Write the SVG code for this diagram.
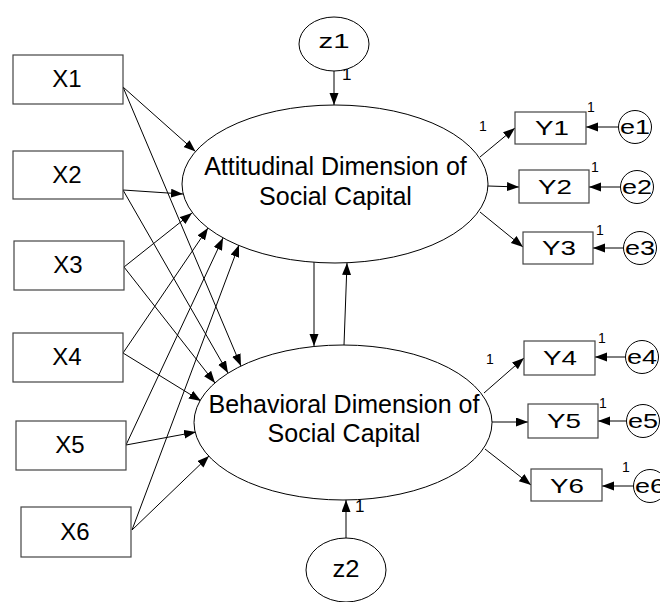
<svg xmlns="http://www.w3.org/2000/svg" width="660" height="602" viewBox="0 0 660 602">
<style>
.box{fill:#fff;stroke:#444;stroke-width:1.2}
.lat{fill:#fff;stroke:#000;stroke-width:1}
.ln{fill:none;stroke:#000;stroke-width:1;marker-end:url(#ah)}
.big{font-family:"Liberation Sans",Arial,sans-serif;font-size:25px;fill:#000;text-anchor:middle}
.xl{font-family:"Liberation Sans",Arial,sans-serif;font-size:24px;fill:#000;text-anchor:middle}
.yl{font-family:"Liberation Sans",Arial,sans-serif;font-size:21px;fill:#000;text-anchor:middle}
.one{font-family:"Liberation Sans",Arial,sans-serif;font-size:14px;fill:#000}
</style>
<defs>
<marker id="ah" markerUnits="userSpaceOnUse" markerWidth="13" markerHeight="10" refX="12" refY="4.5" orient="auto">
<path d="M0,0 L12,4.5 L0,9 z" fill="#000"/>
</marker>
</defs>
<g id="connectors">
<line class="ln" x1="123" y1="87" x2="195.5" y2="151.5"/>
<line class="ln" x1="123" y1="87" x2="241" y2="366"/>
<line class="ln" x1="123" y1="190" x2="183" y2="194"/>
<line class="ln" x1="123" y1="190" x2="228" y2="373"/>
<line class="ln" x1="124" y1="267" x2="192" y2="213"/>
<line class="ln" x1="124" y1="267" x2="215" y2="383"/>
<line class="ln" x1="123" y1="353" x2="208" y2="228"/>
<line class="ln" x1="123" y1="353" x2="201" y2="401"/>
<line class="ln" x1="126" y1="445" x2="223" y2="238"/>
<line class="ln" x1="126" y1="445" x2="196" y2="432"/>
<line class="ln" x1="132" y1="530" x2="239" y2="245"/>
<line class="ln" x1="132" y1="530" x2="209" y2="456"/>
<line class="ln" x1="314" y1="262" x2="314" y2="346"/>
<line class="ln" x1="344" y1="345" x2="347" y2="263"/>
<line class="ln" x1="334" y1="71" x2="334" y2="105"/>
<line class="ln" x1="346" y1="538" x2="346" y2="500"/>
<line class="ln" x1="480" y1="157" x2="515" y2="128"/>
<line class="ln" x1="488" y1="186" x2="519" y2="187"/>
<line class="ln" x1="480" y1="212" x2="523" y2="247"/>
<line class="ln" x1="484" y1="393" x2="524" y2="358"/>
<line class="ln" x1="492" y1="422" x2="528" y2="422"/>
<line class="ln" x1="485" y1="449" x2="531" y2="485"/>
<line class="ln" x1="618.5" y1="127" x2="586" y2="127"/>
<line class="ln" x1="620.5" y1="187" x2="589" y2="187"/>
<line class="ln" x1="623.5" y1="248" x2="593" y2="248"/>
<line class="ln" x1="625.5" y1="357" x2="595" y2="357"/>
<line class="ln" x1="626.5" y1="421" x2="598" y2="421"/>
<line class="ln" x1="633.5" y1="486" x2="602" y2="486"/>
</g>
<g id="labels1">
<text class="one" x="342" y="80" style="font-size:17px">1</text>
<text class="one" x="355" y="512" style="font-size:17px">1</text>
<text class="one" x="479" y="131">1</text>
<text class="one" x="587" y="112">1</text>
<text class="one" x="591" y="172">1</text>
<text class="one" x="596" y="235">1</text>
<text class="one" x="486" y="364">1</text>
<text class="one" x="598" y="343">1</text>
<text class="one" x="599" y="408">1</text>
<text class="one" x="622" y="472">1</text>
</g>
<g id="X1"><rect class="box" x="13" y="55" width="110" height="49"/><text class="xl" x="67" y="87">X1</text></g>
<g id="X2"><rect class="box" x="13" y="151" width="110" height="48"/><text class="xl" x="67" y="183">X2</text></g>
<g id="X3"><rect class="box" x="14" y="241" width="110" height="49"/><text class="xl" x="68" y="273">X3</text></g>
<g id="X4"><rect class="box" x="13" y="333" width="110" height="49"/><text class="xl" x="67" y="365">X4</text></g>
<g id="X5"><rect class="box" x="16" y="421" width="110" height="49"/><text class="xl" x="70" y="453">X5</text></g>
<g id="X6"><rect class="box" x="21" y="507" width="110" height="50"/><text class="xl" x="75" y="540">X6</text></g>
<g id="F1"><ellipse class="lat" cx="335" cy="184" rx="153" ry="79"/><text class="big" x="335.5" y="175">Attitudinal Dimension of</text><text class="big" x="335.5" y="205">Social Capital</text></g>
<g id="F2"><ellipse class="lat" cx="343" cy="422.5" rx="149" ry="77.5"/><text class="big" x="344" y="413">Behavioral Dimension of</text><text class="big" x="344" y="442">Social Capital</text></g>
<g id="z1"><ellipse class="lat" cx="334" cy="44" rx="35" ry="27"/><text class="yl" x="334" y="48" textLength="31" lengthAdjust="spacingAndGlyphs">z1</text></g>
<g id="z2"><ellipse class="lat" cx="346" cy="570" rx="40" ry="32"/><text class="yl" x="346" y="577" style="font-size:23px" textLength="27" lengthAdjust="spacingAndGlyphs">z2</text></g>
<g id="Y1"><rect class="box" x="515" y="112" width="71" height="32"/><text class="yl" x="552" y="135" textLength="34" lengthAdjust="spacingAndGlyphs">Y1</text></g>
<g id="Y2"><rect class="box" x="519" y="170" width="70" height="33"/><text class="yl" x="555" y="194" textLength="34" lengthAdjust="spacingAndGlyphs">Y2</text></g>
<g id="Y3"><rect class="box" x="523" y="232" width="70" height="32"/><text class="yl" x="559" y="255" textLength="34" lengthAdjust="spacingAndGlyphs">Y3</text></g>
<g id="Y4"><rect class="box" x="524" y="341" width="71" height="34"/><text class="yl" x="560" y="365" textLength="34" lengthAdjust="spacingAndGlyphs">Y4</text></g>
<g id="Y5"><rect class="box" x="528" y="404" width="70" height="34"/><text class="yl" x="564" y="428" textLength="34" lengthAdjust="spacingAndGlyphs">Y5</text></g>
<g id="Y6"><rect class="box" x="531" y="469" width="71" height="32"/><text class="yl" x="567" y="493" textLength="34" lengthAdjust="spacingAndGlyphs">Y6</text></g>
<g id="e1"><circle class="lat" cx="635" cy="127" r="16.5"/><text class="yl" x="635" y="134" textLength="30" lengthAdjust="spacingAndGlyphs">e1</text></g>
<g id="e2"><circle class="lat" cx="637" cy="187" r="16.5"/><text class="yl" x="637" y="194" textLength="30" lengthAdjust="spacingAndGlyphs">e2</text></g>
<g id="e3"><circle class="lat" cx="640" cy="248" r="16.5"/><text class="yl" x="640" y="255" textLength="30" lengthAdjust="spacingAndGlyphs">e3</text></g>
<g id="e4"><circle class="lat" cx="642" cy="357" r="16.5"/><text class="yl" x="642" y="364" textLength="30" lengthAdjust="spacingAndGlyphs">e4</text></g>
<g id="e5"><circle class="lat" cx="643" cy="421" r="16.5"/><text class="yl" x="643" y="428" textLength="30" lengthAdjust="spacingAndGlyphs">e5</text></g>
<g id="e6"><circle class="lat" cx="650" cy="486" r="16.5"/><text class="yl" x="650" y="493" textLength="30" lengthAdjust="spacingAndGlyphs">e6</text></g>
</svg>
